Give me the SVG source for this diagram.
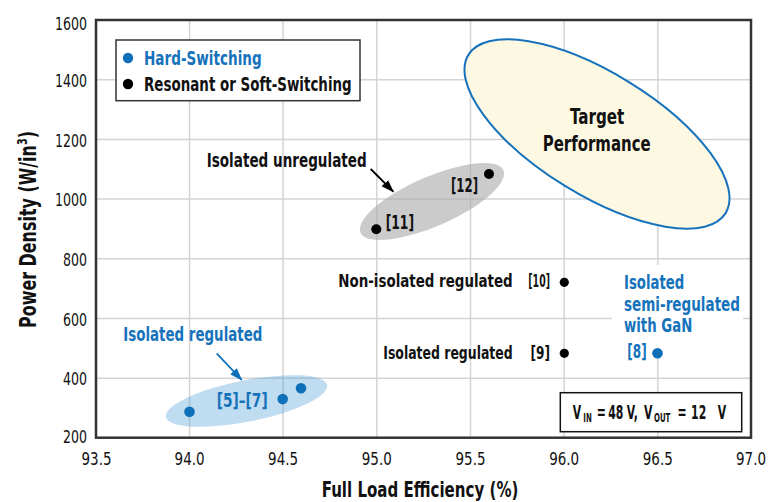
<svg xmlns="http://www.w3.org/2000/svg" width="772" height="502" viewBox="0 0 772 502">
<defs>
<style>
text{font-family:"DejaVu Sans Condensed","DejaVu Sans","Liberation Sans",sans-serif;fill:#111}
.b{font-weight:bold}
.blue{fill:#1673bb}
.tick{font-size:18px}
.grid{stroke:#d4d4d4;stroke-width:1.5}
.dotk{fill:#000}
.dotb{fill:#0e70b8}
</style>
<marker id="ahk" markerWidth="13" markerHeight="10" refX="12" refY="5" orient="auto" markerUnits="userSpaceOnUse"><path d="M0,0.5 L13,5 L0,9.5 z" fill="#000"/></marker>
<marker id="ahb" markerWidth="13" markerHeight="10" refX="12" refY="5" orient="auto" markerUnits="userSpaceOnUse"><path d="M0,0.5 L13,5 L0,9.5 z" fill="#0e70b8"/></marker>
</defs>
<rect width="772" height="502" fill="#fff"/>
<g id="grid">
<line class="grid" x1="189.6" y1="20" x2="189.6" y2="437.7"/>
<line class="grid" x1="283.1" y1="20" x2="283.1" y2="437.7"/>
<line class="grid" x1="376.8" y1="20" x2="376.8" y2="437.7"/>
<line class="grid" x1="470.5" y1="20" x2="470.5" y2="437.7"/>
<line class="grid" x1="564.2" y1="20" x2="564.2" y2="437.7"/>
<line class="grid" x1="657.8" y1="20" x2="657.8" y2="437.7"/>
<line class="grid" x1="96" y1="79.7" x2="751" y2="79.7"/>
<line class="grid" x1="96" y1="139.4" x2="751" y2="139.4"/>
<line class="grid" x1="96" y1="199.1" x2="751" y2="199.1"/>
<line class="grid" x1="96" y1="258.8" x2="751" y2="258.8"/>
<line class="grid" x1="96" y1="318.5" x2="751" y2="318.5"/>
<line class="grid" x1="96" y1="378.2" x2="751" y2="378.2"/>
</g>
<g id="frame"><rect x="96" y="20" width="655" height="417.7" fill="none" stroke="#333" stroke-width="2.5"/></g>
<g id="yticks" class="tick" text-anchor="end">
<text x="87" y="30" textLength="32" lengthAdjust="spacingAndGlyphs">1600</text>
<text x="87" y="87" textLength="32" lengthAdjust="spacingAndGlyphs">1400</text>
<text x="87" y="146.5" textLength="32" lengthAdjust="spacingAndGlyphs">1200</text>
<text x="87" y="206" textLength="32" lengthAdjust="spacingAndGlyphs">1000</text>
<text x="87" y="265.5" textLength="24" lengthAdjust="spacingAndGlyphs">800</text>
<text x="87" y="325.5" textLength="24" lengthAdjust="spacingAndGlyphs">600</text>
<text x="87" y="385" textLength="24" lengthAdjust="spacingAndGlyphs">400</text>
<text x="87" y="443" textLength="24" lengthAdjust="spacingAndGlyphs">200</text>
</g>
<g id="xticks" class="tick" text-anchor="middle">
<text x="96.5" y="465" textLength="30" lengthAdjust="spacingAndGlyphs">93.5</text>
<text x="189.6" y="465" textLength="30" lengthAdjust="spacingAndGlyphs">94.0</text>
<text x="283.1" y="465" textLength="30" lengthAdjust="spacingAndGlyphs">94.5</text>
<text x="376.8" y="465" textLength="30" lengthAdjust="spacingAndGlyphs">95.0</text>
<text x="470.5" y="465" textLength="30" lengthAdjust="spacingAndGlyphs">95.5</text>
<text x="564.2" y="465" textLength="30" lengthAdjust="spacingAndGlyphs">96.0</text>
<text x="657.8" y="465" textLength="30" lengthAdjust="spacingAndGlyphs">96.5</text>
<text x="751" y="465" textLength="30" lengthAdjust="spacingAndGlyphs">97.0</text>
</g>
<g id="axis-titles">
<text class="b" transform="translate(321.7,496.5) scale(0.72,1)" font-size="22" textLength="273.1" lengthAdjust="spacingAndGlyphs">Full Load Efficiency (%)</text>
<text class="b" transform="translate(36,229.5) rotate(-90) scale(0.77,1)" text-anchor="middle" font-size="23">Power Density (W/in<tspan font-size="14" dy="-9">3</tspan><tspan dy="9">)</tspan></text>
</g>
<g id="target">
<ellipse cx="597" cy="134" rx="151" ry="61" transform="rotate(31.6 597 134)" fill="#fdf8e2" stroke="#1673bb" stroke-width="2"/>
<text class="b" transform="translate(570,124) scale(0.72,1)" font-size="21" textLength="75.4" lengthAdjust="spacingAndGlyphs">Target</text>
<text class="b" transform="translate(542.7,150.7) scale(0.72,1)" font-size="21" textLength="150" lengthAdjust="spacingAndGlyphs">Performance</text>
</g>
<g id="isolated-unregulated">
<ellipse cx="432" cy="201.5" rx="78" ry="24.7" transform="rotate(-23.6 432 201.5)" fill="#a8a8a8" fill-opacity="0.6"/>
<text class="b" transform="translate(206.7,167) scale(0.72,1)" font-size="19" textLength="222.2" lengthAdjust="spacingAndGlyphs">Isolated unregulated</text>
<circle class="dotk" cx="376.3" cy="229.2" r="5"/>
<text class="b" transform="translate(385.7,228.5) scale(0.72,1)" font-size="19" textLength="39.3" lengthAdjust="spacingAndGlyphs">[11]</text>
<circle class="dotk" cx="489" cy="174" r="5"/>
<text class="b" transform="translate(451,191.5) scale(0.72,1)" font-size="19" textLength="37.5" lengthAdjust="spacingAndGlyphs">[12]</text>
</g>
<g id="isolated-regulated-group">
<ellipse cx="246.5" cy="401" rx="82.2" ry="20.7" transform="rotate(-11.2 246.5 401)" fill="#4a9ad4" fill-opacity="0.35"/>
<text class="b blue" transform="translate(123.3,340.7) scale(0.72,1)" font-size="19.5" textLength="193.1" lengthAdjust="spacingAndGlyphs">Isolated regulated</text>
<circle class="dotb" cx="189.5" cy="411.7" r="5.3"/>
<circle class="dotb" cx="282.7" cy="399" r="5.3"/>
<circle class="dotb" cx="301" cy="388.3" r="5.3"/>
<text class="b blue" transform="translate(216.7,407) scale(0.72,1)" font-size="19.5" textLength="70.8" lengthAdjust="spacingAndGlyphs">[5]–[7]</text>
</g>
<g id="non-isolated-regulated">
<text class="b" transform="translate(338.3,287.3) scale(0.72,1)" font-size="18.5" textLength="242.2" lengthAdjust="spacingAndGlyphs">Non-isolated regulated</text>
<text class="b" transform="translate(528.3,287.3) scale(0.72,1)" font-size="18.5" textLength="30.1" lengthAdjust="spacingAndGlyphs">[10]</text>
<circle class="dotk" cx="564.3" cy="282.3" r="4.6"/>
</g>
<g id="isolated-regulated-9">
<text class="b" transform="translate(383.3,359.3) scale(0.72,1)" font-size="18.5" textLength="179.7" lengthAdjust="spacingAndGlyphs">Isolated regulated</text>
<text class="b" transform="translate(530.5,359.3) scale(0.72,1)" font-size="18.5" textLength="27.1" lengthAdjust="spacingAndGlyphs">[9]</text>
<circle class="dotk" cx="564.3" cy="353.3" r="4.6"/>
</g>
<g id="gan">
<rect x="612" y="265" width="131" height="83" fill="#fff"/>
<text class="b blue" transform="translate(624,289) scale(0.72,1)" font-size="19.5" textLength="83.8" lengthAdjust="spacingAndGlyphs">Isolated</text>
<text class="b blue" transform="translate(624,310.5) scale(0.72,1)" font-size="19.5" textLength="161.1" lengthAdjust="spacingAndGlyphs">semi-regulated</text>
<text class="b blue" transform="translate(624,332.3) scale(0.72,1)" font-size="19.5" textLength="94.9" lengthAdjust="spacingAndGlyphs">with GaN</text>
<text class="b blue" transform="translate(627.3,358.3) scale(0.72,1)" font-size="19.5" textLength="26.9" lengthAdjust="spacingAndGlyphs">[8]</text>
<circle class="dotb" cx="657.5" cy="353.3" r="5.3"/>
</g>
<g id="legend">
<rect x="116" y="40" width="244" height="60.7" fill="#fff" stroke="#333" stroke-width="1.5"/>
<circle class="dotb" cx="128" cy="58" r="5.2"/>
<text class="b blue" transform="translate(144,64.5) scale(0.72,1)" font-size="19.5" textLength="163.5" lengthAdjust="spacingAndGlyphs">Hard-Switching</text>
<circle class="dotk" cx="128" cy="84" r="5.2"/>
<text class="b" transform="translate(144,91) scale(0.72,1)" font-size="19.5" textLength="288.5" lengthAdjust="spacingAndGlyphs">Resonant or Soft-Switching</text>
</g>
<g id="conditions">
<rect x="560.3" y="392.7" width="181.4" height="39" fill="#fff" stroke="#111" stroke-width="1.5"/>
<text class="b" font-size="19.5" transform="translate(572.7,418.5) scale(0.62,1)"><tspan x="0" y="0">V</tspan><tspan x="17.2" y="3" font-size="12.5">IN</tspan><tspan x="38.7" y="0">= </tspan><tspan x="57.4">48 </tspan><tspan x="87.3">V, </tspan><tspan x="115">V</tspan><tspan x="131.1" y="3" font-size="12.5">OUT</tspan><tspan x="169" y="0">= </tspan><tspan x="191">12 </tspan><tspan x="234">V</tspan></text>
</g>
<g id="connectors">
<line x1="370.7" y1="169" x2="393.3" y2="191.7" stroke="#000" stroke-width="1.8" marker-end="url(#ahk)"/>
<line x1="216.7" y1="353.3" x2="241.7" y2="380" stroke="#0e70b8" stroke-width="1.8" marker-end="url(#ahb)"/>
</g>
</svg>
